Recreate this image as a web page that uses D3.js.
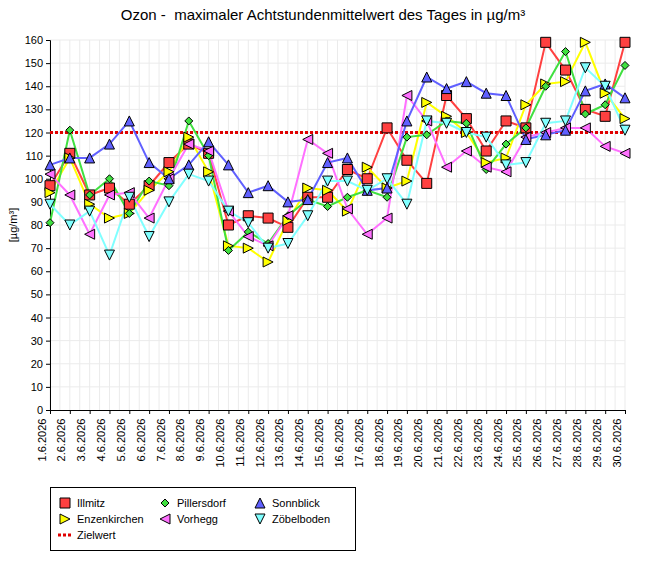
<!DOCTYPE html>
<html>
<head>
<meta charset="utf-8">
<script src="https://cdn.jsdelivr.net/npm/d3@7"></script>
<style>body{margin:0;background:#fff;} text{font-family:"Liberation Sans",Arial,sans-serif;}</style>
</head>
<body>
<script>
var days = [];
for (var d = 1; d <= 30; d++) days.push(d + ".6.2026");

var illmitz = [97,111,93,96,89,97,107,115,111,80,84,83,79,92,92,104,100,122,108,98,136,126,112,125,122,159,147,130,127,159];
var enzenkirchen = [94,109,89,83,85,95,103,118,103,71,70,64,82,96,95,86,105,96,99,133,127,120,107,109,132,141,142,159,137,126];
var pillersdorf = [81,121,93,100,85,99,97,125,110,69,77,72,84,91,88,92,95,92,118,119,125,124,104,115,122,140,155,128,132,149];
var vorhegg = [102,93,76,93,94,83,100,115,112,86,75,71,84,117,111,87,76,83,136,125,105,112,105,103,118,120,122,122,114,111];
var sonnblick = [106,109,109,115,125,107,100,106,116,106,94,97,90,91,107,109,95,96,125,144,139,142,137,136,117,119,121,138,141,135];
var zoebelboden = [89,80,86,67,92,75,90,102,99,86,81,70,72,84,99,99,95,100,89,125,124,120,118,106,107,124,125,148,140,121];
var zielwert = 120;

var series = [
    {name: "Illmitz", values: illmitz, color: "#ff4040", marker: "square"},
    {name: "Enzenkirchen", values: enzenkirchen, color: "#ffff00", marker: "right"},
    {name: "Pillersdorf", values: pillersdorf, color: "#40e040", marker: "diamond"},
    {name: "Vorhegg", values: vorhegg, color: "#ff70ff", marker: "left"},
    {name: "Sonnblick", values: sonnblick, color: "#6060ff", marker: "up"},
    {name: "Zöbelboden", values: zoebelboden, color: "#80ffff", marker: "down"}
];

var width = 645, height = 576;
var plotLeft = 50, plotRight = 625, plotTop = 40, plotBottom = 410;

var svg = d3.select("body").append("svg").attr("width", width).attr("height", height);

var x = d3.scaleLinear().domain([0, days.length - 1]).range([plotLeft, plotRight]);
var y = d3.scaleLinear().domain([0, 160]).range([plotBottom, plotTop]);

// grid
var g = svg.append("g").attr("stroke", "#ebebeb").attr("stroke-width", 1);
d3.range(0, days.length - 0.5, 0.5).forEach(function(i) {
    g.append("line").attr("x1", x(i)).attr("x2", x(i)).attr("y1", plotTop).attr("y2", plotBottom);
});
d3.range(10, 161, 10).forEach(function(v) {
    g.append("line").attr("x1", plotLeft).attr("x2", plotRight).attr("y1", y(v)).attr("y2", y(v));
});

// axes
svg.append("g").attr("transform", "translate(" + plotLeft + ",0)")
    .call(d3.axisLeft(y).tickValues(d3.range(0, 161, 10)).tickSize(4))
    .call(function(a) { a.selectAll("text").attr("font-size", 11).attr("fill", "#000"); a.select(".domain").attr("stroke", "#000"); });

var xa = svg.append("g").attr("transform", "translate(0," + plotBottom + ")")
    .call(d3.axisBottom(x).tickValues(d3.range(days.length)).tickFormat(function(i) { return days[i]; }).tickSize(4));
xa.selectAll("text").attr("font-size", 11).attr("fill", "#000")
    .attr("transform", "rotate(-90)").attr("text-anchor", "end").attr("dx", "-0.6em").attr("dy", "-0.45em").attr("y", 0).attr("x", -2);
xa.select(".domain").attr("stroke", "#000");

// title and y label
svg.append("text").attr("x", 323).attr("y", 20).attr("text-anchor", "middle").attr("font-size", 15)
    .style("white-space", "pre")
    .text("Ozon -  maximaler Achtstundenmittelwert des Tages in µg/m³");
svg.append("text").attr("transform", "translate(17,225) rotate(-90)").attr("text-anchor", "middle")
    .attr("font-size", 11).text("[µg/m³]");

// zielwert line
svg.append("line").attr("x1", plotLeft).attr("x2", plotRight).attr("y1", y(zielwert)).attr("y2", y(zielwert))
    .attr("stroke", "#e00000").attr("stroke-width", 3).attr("stroke-dasharray", "3,2");

function markerPath(type, s) {
    switch (type) {
        case "square": return "M" + (-s) + "," + (-s) + "h" + 2 * s + "v" + 2 * s + "h" + (-2 * s) + "Z";
        case "diamond": return "M0," + (-s) + "L" + s + ",0L0," + s + "L" + (-s) + ",0Z";
        case "up": return "M0," + (-s) + "L" + s + "," + s + "L" + (-s) + "," + s + "Z";
        case "down": return "M0," + s + "L" + s + "," + (-s) + "L" + (-s) + "," + (-s) + "Z";
        case "right": return "M" + s + ",0L" + (-s) + "," + (-s) + "L" + (-s) + "," + s + "Z";
        case "left": return "M" + (-s) + ",0L" + s + "," + (-s) + "L" + s + "," + s + "Z";
    }
}
var sizes = {square: 5, diamond: 4, up: 5, down: 5, right: 5, left: 5};

var line = d3.line().x(function(d, i) { return x(i); }).y(function(d) { return y(d); });
series.forEach(function(s) {
    svg.append("path").datum(s.values).attr("d", line).attr("fill", "none")
        .attr("stroke", s.color).attr("stroke-width", 2);
});
series.forEach(function(s) {
    svg.selectAll(null).data(s.values).enter().append("path")
        .attr("transform", function(d, i) { return "translate(" + x(i) + "," + y(d) + ")"; })
        .attr("d", markerPath(s.marker, sizes[s.marker]))
        .attr("fill", s.color).attr("stroke", "#000").attr("stroke-width", 1);
});

// legend (filled column by column)
var lg = svg.append("g");
lg.append("rect").attr("x", 50.5).attr("y", 487.5).attr("width", 305).attr("height", 63)
    .attr("fill", "#fff").attr("stroke", "#000");
var cols = [65, 165, 260];
series.forEach(function(s, i) {
    var cx = cols[Math.floor(i / 2)], cy = 503 + (i % 2) * 16;
    lg.append("path").attr("transform", "translate(" + cx + "," + cy + ")")
        .attr("d", markerPath(s.marker, sizes[s.marker])).attr("fill", s.color).attr("stroke", "#000");
    lg.append("text").attr("x", cx + 12).attr("y", cy + 4).attr("font-size", 11).text(s.name);
});
lg.append("line").attr("x1", 58).attr("x2", 73).attr("y1", 535).attr("y2", 535)
    .attr("stroke", "#e00000").attr("stroke-width", 3).attr("stroke-dasharray", "3,2");
lg.append("text").attr("x", 77).attr("y", 539).attr("font-size", 11).text("Zielwert");
</script>
</body>
</html>
